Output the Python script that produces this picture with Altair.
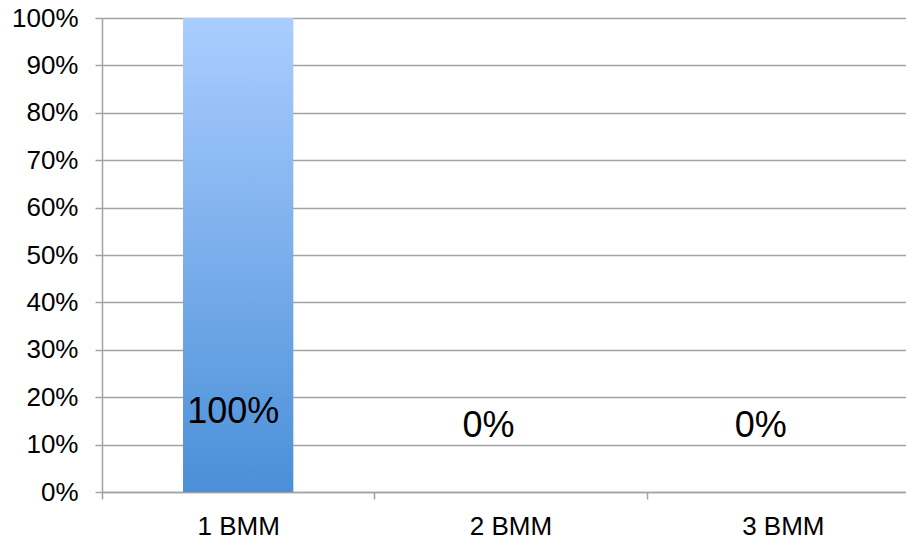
import altair as alt
import pandas as pd

categories = ["1 BMM", "2 BMM", "3 BMM"]
values = [100, 0, 0]
labels = ["100%", "0%", "0%"]
y_ticks = [0, 10, 20, 30, 40, 50, 60, 70, 80, 90, 100]

df = pd.DataFrame({"category": categories, "value": values, "label": labels})

grid = "#a3a3a3"
FONT = "Liberation Sans"

x = alt.X(
    "category:N", sort=categories, title=None,
    scale=alt.Scale(range=[0, 817], paddingInner=0, paddingOuter=0),
    axis=alt.Axis(labelAngle=0, labelFontSize=26, labelColor="black", labelFont=FONT,
                  tickBand="extent", tickSize=7, tickColor=grid, tickWidth=1.5,
                  domainColor=grid, domainWidth=1.5, labelPadding=14, grid=False),
)
y = alt.Y(
    "value:Q", title=None,
    scale=alt.Scale(domain=[0, 100], nice=False),
    axis=alt.Axis(values=y_ticks, labelExpr="datum.value + '%'", labelFontSize=26,
                  labelColor="black", labelFont=FONT, tickSize=7, tickColor=grid,
                  tickWidth=1.5, domainColor=grid, domainWidth=1.5, gridColor=grid,
                  gridWidth=1.5, labelPadding=17),
)

gradient = alt.Gradient(
    gradient="linear",
    stops=[alt.GradientStop(color="#abcdff", offset=0),
           alt.GradientStop(color="#4a8fd8", offset=1)],
    x1=0, x2=0, y1=0, y2=1,
)

bars = alt.Chart(df).mark_bar(
    color=gradient, width=alt.RelativeBandSize(0.405)
).encode(x=x, y=y)

text_pos = alt.Chart(df).transform_filter(alt.datum.value > 0).mark_text(
    fontSize=36, font=FONT, baseline="alphabetic", color="black", dx=-5
).encode(x=alt.X("category:N", sort=categories), y=alt.value(405), text="label:N")

text_zero = alt.Chart(df).transform_filter(alt.datum.value <= 0).mark_text(
    fontSize=36, font=FONT, baseline="alphabetic", color="black", dx=-22
).encode(x=alt.X("category:N", sort=categories), y=alt.value(419), text="label:N")

chart = alt.layer(bars, text_pos, text_zero).properties(
    width=804, height=474,
    autosize=alt.AutoSizeParams(type="none"),
    padding={"left": 102, "top": 18, "right": 0, "bottom": 47},
    background="white",
).configure_view(stroke=None)

chart.save("out.html", embed_options={"renderer": "svg", "actions": False})
